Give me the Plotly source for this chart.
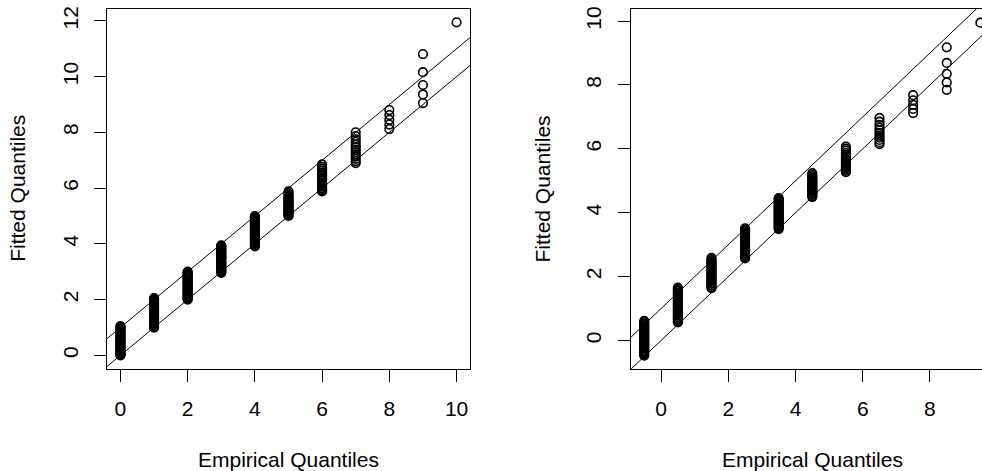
import plotly.graph_objects as go

# ---------------- data ----------------
# Left panel: empirical quantile levels and the fitted quantiles at each level
left_levels = [0, 1, 2, 3, 4, 5, 6, 7, 8, 9, 10]
left_q0 = [0.00, 0.02, 0.05, 0.09, 0.12, 0.15, 0.19, 0.22, 0.26, 0.29, 0.33, 0.36, 0.40, 0.43, 0.47, 0.50,
           0.54, 0.57, 0.61, 0.64, 0.68, 0.71, 0.75, 0.78, 0.82, 0.85, 0.89, 0.92, 0.96, 0.99, 1.02, 1.05]
left_q1 = [0.99, 1.02, 1.06, 1.09, 1.13, 1.16, 1.20, 1.23, 1.27, 1.30, 1.34, 1.37, 1.41, 1.44, 1.48, 1.51,
           1.55, 1.58, 1.62, 1.65, 1.69, 1.72, 1.76, 1.79, 1.83, 1.86, 1.90, 1.93, 1.97, 2.00, 2.03, 2.05]
left_q2 = [2.00, 2.03, 2.07, 2.10, 2.14, 2.17, 2.21, 2.24, 2.28, 2.31, 2.35, 2.38, 2.42, 2.45, 2.49, 2.52,
           2.56, 2.59, 2.63, 2.66, 2.70, 2.73, 2.77, 2.80, 2.84, 2.87, 2.91, 2.94, 2.97, 3.00]
left_q3 = [2.96, 2.99, 3.03, 3.06, 3.10, 3.13, 3.17, 3.20, 3.24, 3.27, 3.31, 3.34, 3.38, 3.41, 3.45, 3.48,
           3.52, 3.55, 3.59, 3.62, 3.66, 3.69, 3.73, 3.76, 3.80, 3.83, 3.87, 3.90, 3.93, 3.95]
left_q4 = [3.91, 3.94, 3.98, 4.01, 4.05, 4.08, 4.12, 4.15, 4.19, 4.22, 4.26, 4.29, 4.33, 4.36, 4.40, 4.43,
           4.47, 4.50, 4.54, 4.57, 4.61, 4.64, 4.68, 4.71, 4.75, 4.78, 4.82, 4.85, 4.89, 4.92, 4.96, 5.00]
left_q5 = [5.00, 5.03, 5.06, 5.10, 5.13, 5.17, 5.20, 5.24, 5.27, 5.31, 5.34, 5.38, 5.42, 5.46, 5.50, 5.54,
           5.58, 5.62, 5.66, 5.71, 5.76, 5.82, 5.88]
left_q6 = [5.88, 5.92, 5.96, 6.00, 6.05, 6.10, 6.15, 6.20, 6.26, 6.32, 6.38, 6.44, 6.50, 6.56, 6.62, 6.69,
           6.76, 6.85]
left_q7 = [6.90, 6.97, 7.05, 7.13, 7.21, 7.29, 7.38, 7.47, 7.56, 7.66, 7.76, 7.87, 8.00]
left_q8 = [8.12, 8.28, 8.45, 8.62, 8.80]
left_q9 = [9.05, 9.36, 9.70, 10.16, 10.81]
left_q10 = [11.95]
left_fitted = [left_q0, left_q1, left_q2, left_q3, left_q4, left_q5, left_q6, left_q7, left_q8, left_q9, left_q10]

# Right panel
right_levels = [-0.5, 0.5, 1.5, 2.5, 3.5, 4.5, 5.5, 6.5, 7.5, 8.5, 9.5]
right_q0 = [-0.47, -0.44, -0.40, -0.37, -0.33, -0.30, -0.26, -0.23, -0.19, -0.16, -0.12, -0.09, -0.05, -0.02,
            0.02, 0.05, 0.09, 0.12, 0.16, 0.19, 0.23, 0.26, 0.30, 0.33, 0.37, 0.40, 0.44, 0.47, 0.51, 0.54,
            0.58, 0.62]
right_q1 = [0.57, 0.60, 0.64, 0.67, 0.71, 0.74, 0.78, 0.81, 0.85, 0.88, 0.92, 0.95, 0.99, 1.02, 1.06, 1.09,
            1.13, 1.16, 1.20, 1.23, 1.27, 1.30, 1.34, 1.37, 1.41, 1.44, 1.48, 1.51, 1.55, 1.58, 1.62, 1.66]
right_q2 = [1.64, 1.67, 1.71, 1.74, 1.78, 1.81, 1.85, 1.88, 1.92, 1.95, 1.99, 2.02, 2.06, 2.09, 2.13, 2.16,
            2.20, 2.23, 2.27, 2.30, 2.34, 2.37, 2.41, 2.44, 2.48, 2.51, 2.55, 2.59]
right_q3 = [2.57, 2.60, 2.64, 2.67, 2.71, 2.74, 2.78, 2.81, 2.85, 2.88, 2.92, 2.95, 2.99, 3.02, 3.06, 3.09,
            3.13, 3.16, 3.20, 3.23, 3.27, 3.30, 3.34, 3.37, 3.41, 3.44, 3.48, 3.51]
right_q4 = [3.49, 3.52, 3.56, 3.59, 3.63, 3.66, 3.70, 3.73, 3.77, 3.80, 3.84, 3.87, 3.91, 3.94, 3.98, 4.01,
            4.05, 4.08, 4.12, 4.15, 4.19, 4.22, 4.26, 4.29, 4.33, 4.36, 4.40, 4.43, 4.46]
right_q5 = [4.49, 4.52, 4.56, 4.59, 4.63, 4.66, 4.70, 4.73, 4.77, 4.80, 4.84, 4.87, 4.91, 4.94, 4.98, 5.02,
            5.06, 5.10, 5.14, 5.19, 5.24]
right_q6 = [5.27, 5.31, 5.35, 5.39, 5.43, 5.47, 5.51, 5.55, 5.60, 5.65, 5.70, 5.75, 5.81, 5.87, 5.94, 6.00,
            6.07]
right_q7 = [6.15, 6.21, 6.28, 6.35, 6.42, 6.50, 6.58, 6.66, 6.75, 6.85, 6.97]
right_q8 = [7.12, 7.25, 7.38, 7.52, 7.68]
right_q9 = [7.85, 8.08, 8.35, 8.69, 9.18]
right_q10 = [9.95]
right_fitted = [right_q0, right_q1, right_q2, right_q3, right_q4, right_q5, right_q6, right_q7, right_q8,
                right_q9, right_q10]

# reference lines y = a + b*x (intercept, slope)
ref_intercepts = [0.0, 1.0]
ref_slope = 1.0

# tick values
left_xticks = [0, 2, 4, 6, 8, 10]
left_yticks = [0, 2, 4, 6, 8, 10, 12]
right_xticks = [0, 2, 4, 6, 8, 10]
right_yticks = [0, 2, 4, 6, 8, 10]

x_label = "Empirical Quantiles"
y_label = "Fitted Quantiles"

# ---------------- geometry ----------------
W, H = 982, 471

left_xrange = [-0.4, 10.4]
left_yrange = [-0.478, 12.428]
right_yrange = [-0.88, 10.38]
px_per_unit = 363 / 10.8
right_l = 630.8
right_xrange = [-0.9, -0.9 + (W - right_l) / px_per_unit]

plot_top, plot_bot = 6, 368
left_l, left_r = 107, 470

FONT = "Liberation Sans, Arial, Helvetica, sans-serif"
FS = 21


def flatten(levels, fitted):
    xs, ys = [], []
    for lv, vals in zip(levels, fitted):
        for v in vals:
            xs.append(lv)
            ys.append(v)
    return xs, ys


fig = go.Figure()

marker = dict(symbol="circle-open", size=8.6, color="black", line=dict(width=1.6, color="black"))

lx, ly = flatten(left_levels, left_fitted)
fig.add_trace(go.Scatter(x=lx, y=ly, mode="markers", marker=marker, xaxis="x", yaxis="y",
                         showlegend=False, cliponaxis=False, hoverinfo="skip"))
rx, ry = flatten(right_levels, right_fitted)
fig.add_trace(go.Scatter(x=rx, y=ry, mode="markers", marker=marker, xaxis="x2", yaxis="y2",
                         showlegend=False, cliponaxis=False, hoverinfo="skip"))

for a in ref_intercepts:
    xs = left_xrange
    fig.add_trace(go.Scatter(x=xs, y=[a + ref_slope * v for v in xs], mode="lines",
                             line=dict(color="black", width=1), xaxis="x", yaxis="y",
                             showlegend=False, hoverinfo="skip"))
    xs2 = [right_xrange[0], 10.5]
    fig.add_trace(go.Scatter(x=xs2, y=[a + ref_slope * v for v in xs2], mode="lines",
                             line=dict(color="black", width=1), xaxis="x2", yaxis="y2",
                             showlegend=False, hoverinfo="skip"))

axis_common = dict(showgrid=False, zeroline=False, showline=True, linecolor="black", linewidth=1,
                   ticks="outside", ticklen=12, tickwidth=1, tickcolor="black",
                   tickfont=dict(family=FONT, size=FS, color="black"))

ydom = [1 - plot_bot / H, 1 - plot_top / H]
fig.update_layout(
    width=W, height=H,
    margin=dict(l=0, r=0, t=0, b=0),
    paper_bgcolor="white", plot_bgcolor="white",
    xaxis=dict(domain=[left_l / W, left_r / W], range=left_xrange, tickvals=left_xticks, mirror=True,
               anchor="y", ticklabelstandoff=9, **axis_common),
    yaxis=dict(domain=ydom, range=left_yrange, tickvals=left_yticks, mirror=True,
               anchor="x", tickangle=-90, ticklabelstandoff=8, **axis_common),
    xaxis2=dict(domain=[right_l / W, 1.0], range=right_xrange, tickvals=right_xticks, mirror=True,
                anchor="y2", ticklabelstandoff=9, **axis_common),
    yaxis2=dict(domain=ydom, range=right_yrange, tickvals=right_yticks, mirror=False,
                anchor="x2", tickangle=-90, ticklabelstandoff=8, **axis_common),
)

title_font = dict(family=FONT, size=FS, color="black")
annos = [
    dict(text=x_label, x=(107 + 470) / 2, y=459, textangle=0),
    dict(text=x_label, x=right_l + 363 / 2, y=459, textangle=0),
    dict(text=y_label, x=18, y=187, textangle=-90),
    dict(text=y_label, x=542.7, y=187, textangle=-90),
]
for a in annos:
    fig.add_annotation(xref="paper", yref="paper", x=a["x"] / W, y=1 - a["y"] / H, text=a["text"],
                       textangle=a["textangle"], showarrow=False, xanchor="center", yanchor="middle",
                       font=title_font)

fig.write_html("out.html", config={"displayModeBar": False},
               post_script="document.body.style.margin='0px';document.body.style.overflow='hidden';")
